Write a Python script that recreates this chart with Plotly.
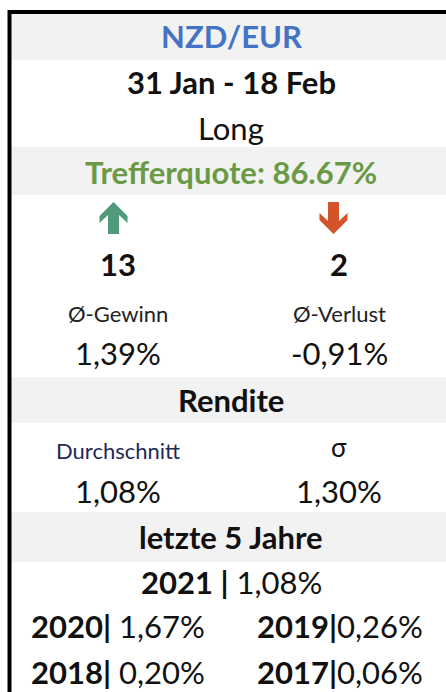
import plotly.graph_objects as go

# Data
pair = "NZD/EUR"
period = "31 Jan - 18 Feb"
direction = "Long"
hit_rate = 86.67
wins = 13
losses = 2
avg_gain = 1.39
avg_loss = -0.91
mean_return = 1.08
std_return = 1.30
years = [2021, 2020, 2019, 2018, 2017]
year_returns = [1.08, 1.67, 0.26, 0.20, 0.06]


def de(v):
    return f"{v:.2f}".replace(".", ",") + "%"


FONT = "Lato"
BIG = 31
SMALL = 22
W, H = 446, 692
LEFT, RIGHT = 118, 339
CENTER = 231

fig = go.Figure()

# gray header bands
bands = [(14, 60), (147, 195), (377, 423), (512, 562)]
for y0, y1 in bands:
    fig.add_shape(type="rect", x0=11, x1=W + 10, y0=y0, y1=y1,
                  fillcolor="#F2F2F2", line_width=0, layer="below")

# outer border (top and left)
fig.add_shape(type="line", x0=9.5, x1=W + 10, y0=12, y1=12,
              line=dict(color="black", width=4))
fig.add_shape(type="line", x0=9.5, x1=9.5, y0=10, y1=H + 10,
              line=dict(color="black", width=4))


def arrow_path(cx, top, up=True):
    # excel style icon arrow, 28 wide, 32 tall
    pts = [(0, 0), (14, 14), (14, 21), (5.5, 13), (5.5, 32),
           (-5.5, 32), (-5.5, 13), (-14, 21), (-14, 14)]
    if not up:
        pts = [(x, 32 - y) for x, y in pts]
    return "M " + " L ".join(f"{cx + x},{top + y}" for x, y in pts) + " Z"


fig.add_shape(type="path", path=arrow_path(113.5, 202, True),
              fillcolor="#4E9A7B", line_width=0)
fig.add_shape(type="path", path=arrow_path(333.5, 202, False),
              fillcolor="#D4532A", line_width=0)


def txt(x, y, s, size=BIG, color="#111", bold=False):
    if bold:
        s = f"<b>{s}</b>"
    fig.add_annotation(x=x, y=y, text=s, showarrow=False,
                       xanchor="center", yanchor="middle",
                       font=dict(family=FONT, size=size, color=color))


txt(CENTER, 36, pair, color="#4472C4", bold=True)
txt(CENTER, 82, period, bold=True)
txt(CENTER, 128, direction)
txt(CENTER, 172, f"Trefferquote: {hit_rate:.2f}%", color="#6A9A46", bold=True)

txt(LEFT, 264, str(wins), bold=True)
txt(RIGHT, 264, str(losses), bold=True)
txt(LEFT, 313, "Ø-Gewinn", size=SMALL, color="#222")
txt(RIGHT, 313, "Ø-Verlust", size=SMALL, color="#222")
txt(LEFT, 353, de(avg_gain))
txt(RIGHT, 353, de(avg_loss))

txt(CENTER, 400, "Rendite", bold=True)
txt(LEFT, 450, "Durchschnitt", size=SMALL, color="#1F2A55")
txt(RIGHT, 447, "σ", size=26)
txt(LEFT, 491, de(mean_return))
txt(RIGHT, 491, de(std_return))

txt(CENTER, 537, "letzte 5 Jahre", bold=True)
txt(CENTER, 582, f"<b>{years[0]} |</b> {de(year_returns[0])}")
txt(LEFT, 626, f"<b>{years[1]}|</b> {de(year_returns[1])}")
txt(RIGHT + 1, 626, f"<b>{years[2]}|</b>{de(year_returns[2])}")
txt(LEFT, 672, f"<b>{years[3]}|</b> {de(year_returns[3])}")
txt(RIGHT + 1, 672, f"<b>{years[4]}|</b>{de(year_returns[4])}")

fig.update_layout(
    width=W, height=H,
    margin=dict(l=0, r=0, t=0, b=0),
    plot_bgcolor="white", paper_bgcolor="white",
    xaxis=dict(range=[0, W], visible=False, fixedrange=True),
    yaxis=dict(range=[H, 0], visible=False, fixedrange=True),
    showlegend=False,
)

fig.write_html("out.html", config={"displayModeBar": False},
               post_script="document.body.style.margin='0';document.body.style.overflow='hidden';")
